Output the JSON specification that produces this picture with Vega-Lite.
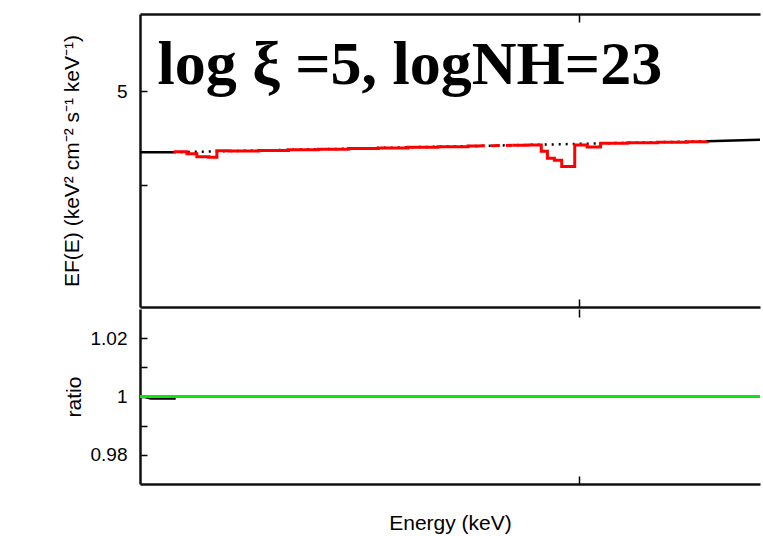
{
  "$schema": "https://vega.github.io/schema/vega-lite/v6.json",
  "background": "white",
  "padding": {"left": 61, "top": 13, "right": 0, "bottom": 0},
  "autosize": {"type": "pad"},
  "spacing": 0,
  "config": {
    "view": {"stroke": null},
    "font": "Liberation Sans",
    "axis": {
      "labelFont": "Liberation Sans",
      "titleFont": "Liberation Sans",
      "labelFontSize": 19,
      "titleFontSize": 21,
      "titleFontWeight": "normal",
      "labelColor": "black",
      "titleColor": "black",
      "grid": false,
      "tickColor": "black",
      "domainColor": "#111111",
      "domainWidth": 2.5,
      "tickWidth": 1.5
    }
  },
  "datasets": {
    "spec": [
      {"e": 1.0, "f": 4.326, "s": "ext", "g": "L"},
      {"e": 1.132, "f": 4.326, "s": "ext", "g": "L"},
      {"e": 8.013, "f": 4.441, "s": "ext", "g": "R"},
      {"e": 9.73, "f": 4.456, "s": "ext", "g": "R"},
      {"e": 1.132, "f": 4.326, "s": "model", "g": "M"},
      {"e": 1.49, "f": 4.342, "s": "model", "g": "M"},
      {"e": 1.789, "f": 4.353, "s": "model", "g": "M"},
      {"e": 2.148, "f": 4.363, "s": "model", "g": "M"},
      {"e": 2.579, "f": 4.375, "s": "model", "g": "M"},
      {"e": 3.097, "f": 4.385, "s": "model", "g": "M"},
      {"e": 3.717, "f": 4.396, "s": "model", "g": "M"},
      {"e": 4.463, "f": 4.406, "s": "model", "g": "M"},
      {"e": 5.359, "f": 4.417, "s": "model", "g": "M"},
      {"e": 6.435, "f": 4.428, "s": "model", "g": "M"},
      {"e": 8.013, "f": 4.441, "s": "model", "g": "M"},
      {"e": 1.132, "f": 4.332, "s": "data", "g": "A"},
      {"e": 1.188, "f": 4.31, "s": "data", "g": "A"},
      {"e": 1.232, "f": 4.28, "s": "data", "g": "A"},
      {"e": 1.287, "f": 4.275, "s": "data", "g": "A"},
      {"e": 1.326, "f": 4.342, "s": "data", "g": "A"},
      {"e": 1.385, "f": 4.338, "s": "data", "g": "A"},
      {"e": 1.546, "f": 4.344, "s": "data", "g": "A"},
      {"e": 1.725, "f": 4.351, "s": "data", "g": "A"},
      {"e": 1.924, "f": 4.357, "s": "data", "g": "A"},
      {"e": 2.148, "f": 4.364, "s": "data", "g": "A"},
      {"e": 2.397, "f": 4.37, "s": "data", "g": "A"},
      {"e": 2.675, "f": 4.377, "s": "data", "g": "A"},
      {"e": 2.985, "f": 4.383, "s": "data", "g": "A"},
      {"e": 3.332, "f": 4.39, "s": "data", "g": "A"},
      {"e": 3.43, "f": 4.391, "s": "data", "g": "A"},
      {"e": 3.43, "f": 4.391, "s": "dash", "g": "D"},
      {"e": 3.928, "f": 4.398, "s": "dash", "g": "D"},
      {"e": 3.928, "f": 4.398, "s": "data", "g": "B"},
      {"e": 4.149, "f": 4.401, "s": "data", "g": "B"},
      {"e": 4.36, "f": 4.336, "s": "data", "g": "B"},
      {"e": 4.46, "f": 4.265, "s": "data", "g": "B"},
      {"e": 4.575, "f": 4.244, "s": "data", "g": "B"},
      {"e": 4.7, "f": 4.184, "s": "data", "g": "B"},
      {"e": 4.93, "f": 4.402, "s": "data", "g": "B"},
      {"e": 5.16, "f": 4.381, "s": "data", "g": "B"},
      {"e": 5.42, "f": 4.42, "s": "data", "g": "B"},
      {"e": 5.982, "f": 4.425, "s": "data", "g": "B"},
      {"e": 6.676, "f": 4.431, "s": "data", "g": "B"},
      {"e": 7.449, "f": 4.435, "s": "data", "g": "B"},
      {"e": 8.013, "f": 4.441, "s": "data", "g": "B"}
    ],
    "ratio": [
      {"e": 1.0, "r": 1.0003, "s": "blk"},
      {"e": 1.04, "r": 0.9993, "s": "blk"},
      {"e": 1.14, "r": 0.9993, "s": "blk"},
      {"e": 1.0, "r": 1.0, "s": "fit"},
      {"e": 9.73, "r": 1.0, "s": "fit"}
    ]
  },
  "vconcat": [
    {
      "width": 620,
      "height": 293,
      "data": {"name": "spec"},
      "resolve": {"axis": {"x": "independent", "y": "independent"}},
      "layer": [
        {
          "transform": [{"filter": "datum.s == 'model'"}],
          "mark": {"type": "line", "color": "black", "strokeWidth": 2.5, "strokeDash": [2, 5]},
          "encoding": {
            "x": {"field": "e", "type": "quantitative", "scale": {"type": "log", "domain": [1, 9.73], "nice": false},
                  "axis": {"orient": "top", "values": [5], "labels": false, "tickSize": -8, "title": null}},
            "y": {"field": "f", "type": "quantitative", "scale": {"type": "log", "domain": [3, 6], "nice": false},
                  "axis": {"title": "EF(E) (keV² cm⁻² s⁻¹ keV⁻¹)", "values": [4, 5], "labelExpr": "datum.value == 5 ? '5' : ''",
                           "tickSize": -7, "labelPadding": 20, "titlePadding": 34}}
          }
        },
        {
          "transform": [{"filter": "datum.s == 'ext'"}],
          "mark": {"type": "line", "color": "black", "strokeWidth": 2.5},
          "encoding": {
            "x": {"field": "e", "type": "quantitative", "scale": {"type": "log", "domain": [1, 9.73], "nice": false},
                  "axis": {"orient": "bottom", "values": [5], "labels": false, "tickSize": -8, "title": null}},
            "y": {"field": "f", "type": "quantitative", "scale": {"type": "log", "domain": [3, 6], "nice": false}, "axis": null},
            "detail": {"field": "g"}
          }
        },
        {
          "transform": [{"filter": "datum.s == 'data'"}],
          "mark": {"type": "line", "color": "#ff0000", "strokeWidth": 3, "interpolate": "step-after"},
          "encoding": {
            "x": {"field": "e", "type": "quantitative", "scale": {"type": "log", "domain": [1, 9.73], "nice": false}, "axis": null},
            "y": {"field": "f", "type": "quantitative", "scale": {"type": "log", "domain": [3, 6], "nice": false}, "axis": null},
            "detail": {"field": "g"}
          }
        },
        {
          "transform": [{"filter": "datum.s == 'dash'"}],
          "mark": {"type": "line", "color": "#ff0000", "strokeWidth": 3, "strokeDash": [9, 6]},
          "encoding": {
            "x": {"field": "e", "type": "quantitative", "scale": {"type": "log", "domain": [1, 9.73], "nice": false}, "axis": null},
            "y": {"field": "f", "type": "quantitative", "scale": {"type": "log", "domain": [3, 6], "nice": false}, "axis": null}
          }
        },
        {
          "data": {"values": [{"label": "log ξ =5, logNH=23"}]},
          "mark": {"type": "text", "font": "Liberation Serif", "fontSize": 62, "fontWeight": "bold", "align": "left", "baseline": "alphabetic", "color": "black"},
          "encoding": {
            "x": {"datum": 1.066, "type": "quantitative", "scale": {"type": "log", "domain": [1, 9.73], "nice": false}, "axis": null},
            "y": {"datum": 5.09, "type": "quantitative", "scale": {"type": "log", "domain": [3, 6], "nice": false}, "axis": null},
            "text": {"field": "label"}
          }
        }
      ]
    },
    {
      "width": 620,
      "height": 175,
      "data": {"name": "ratio"},
      "resolve": {"axis": {"x": "independent", "y": "independent"}},
      "layer": [
        {
          "transform": [{"filter": "datum.s == 'blk'"}],
          "mark": {"type": "line", "color": "black", "strokeWidth": 2.5},
          "encoding": {
            "x": {"field": "e", "type": "quantitative", "scale": {"type": "log", "domain": [1, 9.73], "nice": false},
                  "axis": {"orient": "top", "values": [5], "labels": false, "domain": false, "tickSize": -8, "title": null}},
            "y": {"field": "r", "type": "quantitative", "scale": {"domain": [0.97, 1.03], "nice": false, "zero": false},
                  "axis": {"title": "ratio", "values": [0.98, 0.99, 1, 1.01, 1.02],
                           "labelExpr": "abs(datum.value - 1) < 0.001 ? '1' : ((abs(datum.value - 0.99) < 0.001 || abs(datum.value - 1.01) < 0.001) ? '' : format(datum.value, '.2f'))",
                           "tickSize": -7, "labelPadding": 20, "titlePadding": 6}}
          }
        },
        {
          "transform": [{"filter": "datum.s == 'fit'"}],
          "mark": {"type": "line", "color": "#11e011", "strokeWidth": 3},
          "encoding": {
            "x": {"field": "e", "type": "quantitative", "scale": {"type": "log", "domain": [1, 9.73], "nice": false},
                  "axis": {"orient": "bottom", "values": [5], "labels": false, "tickSize": -8, "title": "Energy (keV)", "titlePadding": 28}},
            "y": {"field": "r", "type": "quantitative", "scale": {"domain": [0.97, 1.03], "nice": false, "zero": false}, "axis": null}
          }
        }
      ]
    }
  ]
}
